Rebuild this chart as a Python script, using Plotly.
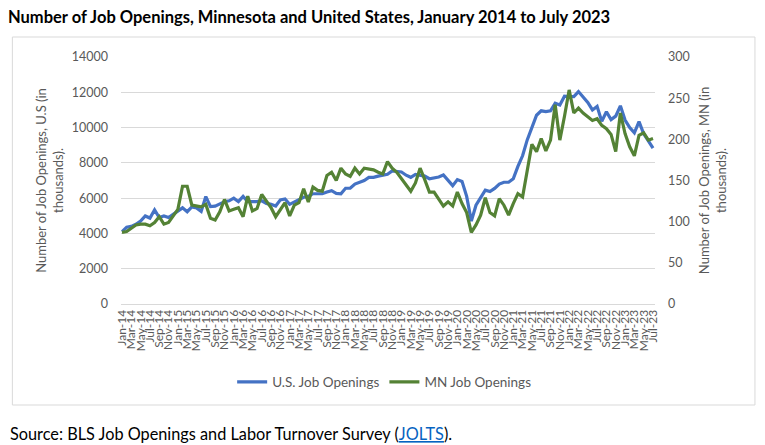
import plotly.graph_objects as go
import pandas as pd

months = pd.date_range("2014-01-01", "2023-07-01", freq="MS").strftime("%b-%y").tolist()

us_openings = [
    4100, 4350, 4400, 4520, 4700, 4990, 4870, 5330, 4900, 4990, 4900, 5100,
    5300, 5450, 5230, 5500, 5450, 5250, 6090, 5520, 5550, 5700, 5800, 5850,
    6000, 5800, 6100, 5800, 5800, 5800, 5850, 5700, 5650, 5550, 5900, 5950,
    5650, 5800, 5900, 6050, 6100, 6250, 6250, 6250, 6350, 6420, 6270, 6250,
    6560, 6560, 6800, 6900, 7000, 7180, 7180, 7250, 7310, 7350, 7540, 7500,
    7480, 7300, 7180, 7350, 7300, 7250, 7100, 7150, 7200, 7310, 7000, 6710,
    7050, 6950, 6100, 4700, 5600, 6050, 6450, 6370, 6550, 6800, 6900, 6900,
    7100, 7800, 8400, 9300, 10000, 10700, 10950, 10900, 10950, 11380, 11280, 11780,
    11760, 11750, 12040, 11760, 11420, 11000, 11200, 10350, 10900, 10450, 10650, 11230,
    10430, 10000, 9700, 10340, 9650, 9250, 8830,
]

mn_openings = [
    87, 88, 92, 96, 97, 97, 95, 99, 106, 97, 99, 107,
    115, 143, 143, 120, 119, 118, 121, 104, 102, 112, 127, 113,
    115, 117, 106, 131, 113, 116, 133, 125, 117, 106, 115, 123,
    107, 120, 123, 140, 124, 142, 138, 137, 156, 160, 150, 165,
    158, 155, 165, 158, 165, 164, 163, 160, 158, 173, 165, 160,
    152, 145, 137, 147, 165, 151, 136, 136, 127, 119, 124, 119,
    136, 122, 111, 87, 96, 108, 129, 111, 107, 128, 120, 108,
    122, 134, 130, 162, 194, 185, 201, 186, 199, 242, 199, 228,
    260, 232, 238, 232, 228, 223, 225, 217, 213, 206, 185, 232,
    207, 191, 180, 205, 208, 199, 201,
]

tick_labels = months[::2]

FONT = "Lato"
GREY = "#595959"
GRID = "#D9D9D9"

# page has an 8px body margin: work in figure pixels = page pixels - 8
OFF = 8
FW, FH = 765 - OFF, 445 - OFF

fig = go.Figure()
fig.add_trace(go.Scatter(x=months, y=us_openings, name="U.S. Job Openings", mode="lines",
                         line=dict(color="#4472C4", width=3.2)))
fig.add_trace(go.Scatter(x=months, y=mn_openings, name="MN Job Openings", mode="lines",
                         line=dict(color="#548235", width=3.2), yaxis="y2"))

# plot area in figure pixels
L, R, T, B = 120.7 - OFF, 655.0 - OFF, 57.0 - OFF, 304.0 - OFF
W, H = R - L, B - T

def px_x(p):
    return (p - OFF - L) / W

def px_y(p):
    return (B - (p - OFF)) / H

fig.update_layout(
    width=FW, height=FH,
    margin=dict(l=L, r=FW - R, t=T, b=FH - B, pad=0),
    paper_bgcolor="white", plot_bgcolor="white",
    font=dict(family=FONT, size=12, color=GREY),
    showlegend=True,
    legend=dict(orientation="h", x=px_x(384), xanchor="center", y=px_y(382), yanchor="middle",
                font=dict(family=FONT, size=13.5, color=GREY), itemwidth=30,
                bgcolor="rgba(0,0,0,0)"),
    xaxis=dict(type="category", tickmode="array", tickvals=tick_labels, ticktext=tick_labels,
               tickangle=-90, tickfont=dict(family=FONT, size=12, color=GREY),
               showgrid=False, showline=True, linecolor=GRID, linewidth=1, ticks="",
               range=[-0.21, 114.43], fixedrange=True),
    yaxis=dict(range=[0, 14000], dtick=2000, tickformat="d", gridcolor=GRID, gridwidth=1,
               zeroline=False, showline=False, ticks="", ticklabelstandoff=12,
               tickfont=dict(family=FONT, size=12.5, color=GREY),
               title=dict(text="Number of Job Openings, U.S (in<br>thousands).",
                          font=dict(family=FONT, size=13, color=GREY), standoff=5)),
    yaxis2=dict(range=[0, 300], dtick=50, tickformat="d", overlaying="y", side="right",
                showgrid=False, zeroline=False, showline=False, ticks="", ticklabelstandoff=12,
                tickfont=dict(family=FONT, size=12.5, color=GREY),
                title=dict(text="Number of Job Openings, MN (in<br>thousands).",
                           font=dict(family=FONT, size=13, color=GREY), standoff=11)),
    title=dict(text="<b>Number of Job Openings, Minnesota and United States, January 2014 to July 2023</b>",
               xref="container", yref="container", x=0.0, xanchor="left",
               y=1 - 9 / FH, yanchor="middle",
               font=dict(family=FONT, size=16.5, color="black")),
)

# chart border
fig.add_shape(type="rect", xref="paper", yref="paper",
              x0=px_x(12), x1=px_x(755), y0=px_y(405), y1=px_y(37),
              line=dict(color=GRID, width=1), fillcolor="rgba(0,0,0,0)", layer="below")

fig.add_annotation(
    xref="paper", yref="paper", x=px_x(8), y=px_y(433), xanchor="left", yanchor="middle",
    showarrow=False, align="left",
    text=("Source: BLS Job Openings and Labor Turnover Survey ("
          "<a href='https://www.bls.gov/jlt/' style='color:#0563C1;text-decoration:underline'>JOLTS</a>)."),
    font=dict(family=FONT, size=16.3, color="black"),
)

fig.write_html("out.html")
